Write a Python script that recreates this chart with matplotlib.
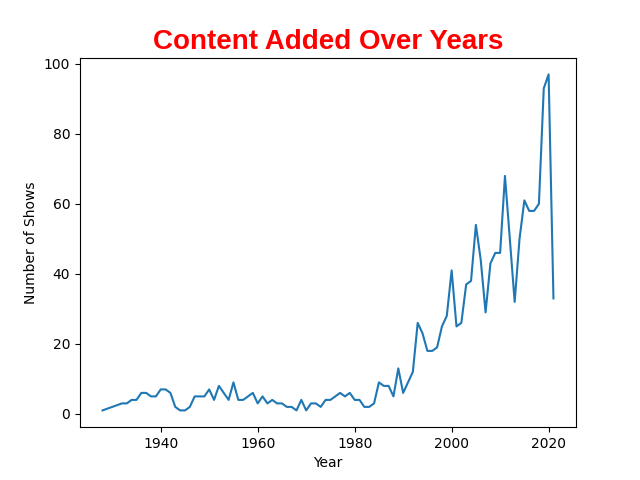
import matplotlib
matplotlib.use("Agg")
import matplotlib.pyplot as plt

years = [1928, 1932, 1933, 1934, 1935, 1936, 1937, 1938, 1939, 1940,
         1941, 1942, 1943, 1944, 1945, 1946, 1947, 1948, 1949, 1950,
         1951, 1952, 1953, 1954, 1955, 1956, 1957, 1958, 1959, 1960,
         1961, 1962, 1963, 1964, 1965, 1966, 1967, 1968, 1969, 1970,
         1971, 1972, 1973, 1974, 1975, 1976, 1977, 1978, 1979, 1980,
         1981, 1982, 1983, 1984, 1985, 1986, 1987, 1988, 1989, 1990,
         1991, 1992, 1993, 1994, 1995, 1996, 1997, 1998, 1999, 2000,
         2001, 2002, 2003, 2004, 2005, 2006, 2007, 2008, 2009, 2010,
         2011, 2012, 2013, 2014, 2015, 2016, 2017, 2018, 2019, 2020,
         2021]
counts = [1, 3, 3, 4, 4, 6, 6, 5, 5, 7,
          7, 6, 2, 1, 1, 2, 5, 5, 5, 7,
          4, 8, 6, 4, 9, 4, 4, 5, 6, 3,
          5, 3, 4, 3, 3, 2, 2, 1, 4, 1,
          3, 3, 2, 4, 4, 5, 6, 5, 6, 4,
          4, 2, 2, 3, 9, 8, 8, 5, 13, 6,
          9, 12, 26, 23, 18, 18, 19, 25, 28, 41,
          25, 26, 37, 38, 54, 44, 29, 43, 46, 46,
          68, 50, 32, 50, 61, 58, 58, 60, 93, 97,
          33]

title = "Content Added Over Years"
xlabel = "Year"
ylabel = "Number of Shows"

fig, ax = plt.subplots(figsize=(6.4, 4.8), dpi=100)
ax.plot(years, counts, color="#1f77b4", linewidth=1.5)
ax.set_title(title, color="red", fontsize=20, fontweight="bold",
             family=["Liberation Sans", "DejaVu Sans"])
ax.set_xlabel(xlabel)
ax.set_ylabel(ylabel)
fig.savefig("out.png", dpi=100)
